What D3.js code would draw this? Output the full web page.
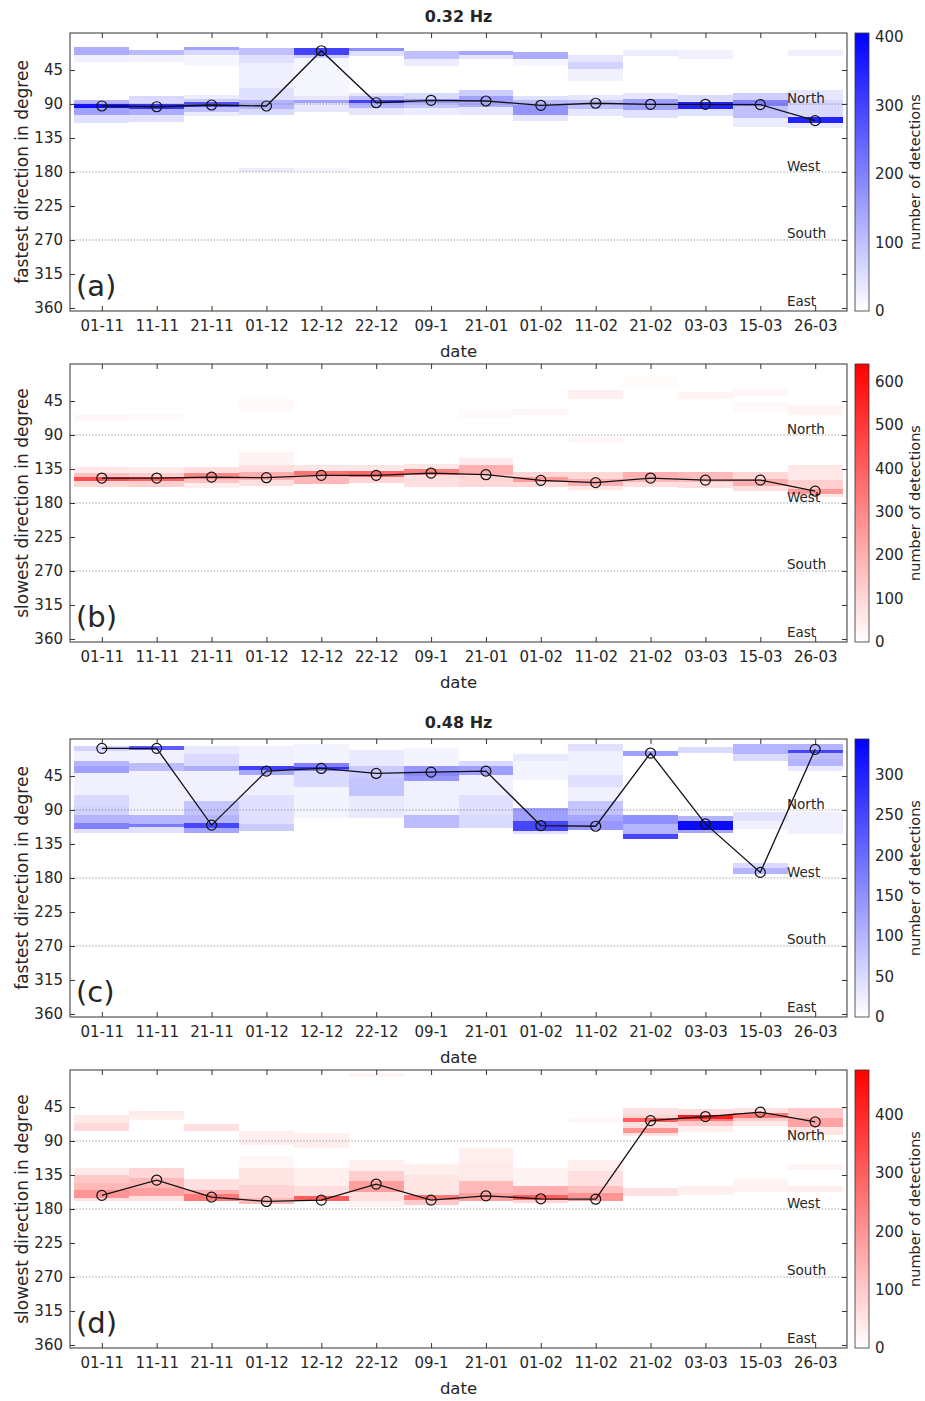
<!DOCTYPE html>
<html>
<head>
<meta charset="utf-8">
<title>Fastest and slowest directions</title>
<style>
  body { margin: 0; background: #fff; }
  svg text { font-family: "DejaVu Sans", Verdana, sans-serif; fill: #262626; }
</style>
</head>
<body>
<svg width="925" height="1401"></svg>

<script src="https://cdn.jsdelivr.net/npm/d3@7"></script>
<script>
// dates on the x axis
var dates = ["01-11", "11-11", "21-11", "01-12", "12-12", "22-12", "09-1",
             "21-01", "01-02", "11-02", "21-02", "03-03", "15-03", "26-03"]

// mean direction per date (degrees)
var fastMean032 = [92.6, 93.6, 91.3, 92.6, 19.5, 88.3, 85.1, 86, 91.7, 89, 90.4, 90.4, 90.8, 112]
var slowMean032 = [147, 147, 145.7, 146.5, 143.4, 143.4, 140.4, 142.5, 150, 153, 147, 149.7, 149.7, 164.3]
var fastMean048 = [8.4, 8.4, 110, 38.5, 35, 41.6, 39.8, 38.5, 110.6, 111.5, 14.6, 108.4, 172.6, 9.7]
var slowMean048 = [162, 141.7, 164.3, 170, 168.3, 147, 168.3, 162.5, 166.5, 167, 63, 57.6, 51.8, 64.7]

// detections per date: [from deg, to deg, count]
var fastHist032 = [
  [[15,25,130],[25,35,25],[85,90,120],[90,95,380],[95,105,150],[105,115,50]],
  [[18,25,110],[25,35,20],[80,90,60],[90,96,330],[96,105,130],[105,114,50]],
  [[15,19,150],[19,25,60],[25,40,15],[78,83,30],[83,87,80],[87,94,280],[94,100,100],[100,106,30]],
  [[16,25,100],[25,36,50],[36,69,25],[69,85,50],[85,96,120],[96,104,60],[175,180,30]],
  [[16,25,300],[25,29,80],[29,80,15],[80,85,40],[85,89,150],[89,100,40],[175,180,15]],
  [[16,20,180],[20,26,50],[75,80,40],[80,85,100],[85,89,300],[89,95,120],[95,104,40]],
  [[20,30,100],[30,40,30],[75,83,60],[83,89,160],[89,95,90],[95,105,30]],
  [[20,25,140],[25,30,40],[72,80,80],[80,87,150],[87,94,130],[94,105,40]],
  [[21,30,130],[30,40,15],[80,85,50],[85,91,110],[91,105,170],[105,112,40]],
  [[25,34,40],[34,43,70],[43,60,20],[78,85,40],[85,96,100],[96,106,40]],
  [[18,27,30],[75,83,40],[83,91,150],[91,98,150],[98,108,50]],
  [[18,30,20],[78,87,60],[87,96,350],[96,106,50]],
  [[75,85,80],[85,93,200],[93,109,100],[109,120,30]],
  [[18,27,25],[72,85,40],[85,107,60],[107,115,350],[115,122,30]]
]
var slowHist032 = [
  [[64,72,20],[133,140,60],[140,146,150],[146,151,450],[151,159,100]],
  [[62,70,15],[133,140,50],[140,145,120],[145,151,400],[151,159,120]],
  [[133,140,80],[140,148,300],[148,154,150],[154,160,40]],
  [[42,59,15],[112,130,30],[130,139,80],[139,150,200],[150,157,80]],
  [[130,137,60],[137,143,350],[143,155,180]],
  [[130,137,60],[137,146,380],[146,153,100]],
  [[128,135,60],[135,143,320],[143,159,80]],
  [[55,68,15],[121,130,50],[130,143,200],[143,159,100]],
  [[55,64,20],[139,146,100],[146,152,250],[152,159,100]],
  [[30,42,40],[93,101,20],[139,148,100],[148,157,200],[157,163,60]],
  [[10,25,10],[139,146,200],[146,152,180],[152,159,80]],
  [[33,42,30],[139,152,170],[152,160,80]],
  [[30,38,20],[46,60,15],[139,148,100],[148,157,200],[157,164,80]],
  [[50,64,30],[130,150,60],[150,161,120],[161,168,250],[168,172,60]]
]
var fastHist048 = [
  [[5,12,60],[12,25,20],[25,32,100],[32,41,130],[41,70,20],[70,85,50],[85,96,60],[96,107,100],[107,115,170],[115,121,40]],
  [[5,10,220],[10,28,20],[28,38,90],[38,96,20],[96,109,100],[109,113,180],[113,120,40]],
  [[5,16,30],[16,32,50],[32,38,110],[38,78,20],[78,96,80],[96,107,100],[107,114,250],[114,120,120]],
  [[5,32,20],[32,37,260],[37,44,120],[44,70,20],[70,109,40],[109,118,70]],
  [[2,28,15],[28,33,170],[33,36,280],[36,38,170],[38,60,50],[60,100,15]],
  [[10,32,30],[32,47,70],[47,72,80],[72,100,30]],
  [[8,32,15],[32,38,140],[38,45,160],[45,51,140],[51,96,20],[96,114,90]],
  [[25,32,50],[32,43,130],[43,70,20],[70,96,40],[96,114,50]],
  [[16,25,30],[25,50,15],[87,105,130],[105,118,250],[118,122,40]],
  [[3,12,40],[12,43,20],[43,60,40],[60,78,20],[78,96,80],[96,105,120],[105,116,140]],
  [[12,18,130],[96,109,150],[109,122,100],[122,129,250]],
  [[7,14,50],[98,105,100],[105,116,330],[116,120,120]],
  [[3,16,100],[16,25,50],[92,105,40],[105,115,20],[160,167,50],[167,175,100]],
  [[3,10,100],[10,14,250],[14,23,90],[23,32,100],[32,38,30],[92,122,20]]
]
var slowHist048 = [
  [[55,66,40],[66,77,70],[126,135,40],[135,146,100],[146,155,130],[155,165,200],[165,170,60]],
  [[50,55,40],[55,62,30],[126,139,80],[139,152,130],[152,163,180],[163,170,60]],
  [[68,77,60],[140,155,60],[155,160,150],[160,170,250]],
  [[77,95,30],[110,126,15],[126,148,50],[148,165,80],[165,174,130]],
  [[80,99,30],[126,150,30],[150,163,60],[163,170,300]],
  [[0,5,20],[115,130,30],[130,143,90],[143,157,180],[157,170,60],[170,177,20]],
  [[120,135,30],[135,161,50],[161,168,250],[168,175,100]],
  [[99,117,30],[117,143,40],[143,159,130],[159,170,180]],
  [[126,150,20],[150,161,150],[161,168,300],[168,172,80]],
  [[60,66,15],[115,130,30],[130,150,60],[150,159,120],[159,170,200]],
  [[46,55,60],[55,60,80],[60,65,300],[65,73,60],[73,79,200],[79,84,50],[152,163,60]],
  [[48,55,70],[55,61,420],[61,64,250],[64,70,100],[70,78,30],[150,162,30]],
  [[46,53,60],[53,59,250],[59,64,100],[64,70,40],[140,158,20]],
  [[46,59,100],[59,71,170],[71,82,50],[120,128,20],[150,158,30]]
]

var yTicks = [45, 90, 135, 180, 225, 270, 315, 360]
var guideLines = [90, 180, 270]
var compass = [["North", 88], ["West", 178.5], ["South", 268], ["East", 358]]

var panels = [
  {top: 33,   title: "0.32 Hz", ylabel: "fastest direction in degree", tag: "(a)",
   mean: fastMean032, hist: fastHist032, hue: "#0000ff", max: 406, cb: [0, 100, 200, 300, 400]},
  {top: 364,  title: null, ylabel: "slowest direction in degree", tag: "(b)",
   mean: slowMean032, hist: slowHist032, hue: "#ff0000", max: 640, cb: [0, 100, 200, 300, 400, 500, 600]},
  {top: 739,  title: "0.48 Hz", ylabel: "fastest direction in degree", tag: "(c)",
   mean: fastMean048, hist: fastHist048, hue: "#0000ff", max: 344, cb: [0, 50, 100, 150, 200, 250, 300]},
  {top: 1070, title: null, ylabel: "slowest direction in degree", tag: "(d)",
   mean: slowMean048, hist: slowHist048, hue: "#ff0000", max: 476, cb: [0, 100, 200, 300, 400]}
]

var svg = d3.select("svg"),
  left = 70, right = 847, plotH = 278,
  cbLeft = 855, cbW = 14,
  axisColor = "#333"

var x = d3.scaleLinear().domain([-0.58, 13.58]).range([left, right])
var defs = svg.append("defs")

panels.forEach(function (p, k) {
  var bottom = p.top + plotH
  var y = d3.scaleLinear().domain([-4, 364]).range([p.top, bottom])
  var color = d3.scaleLinear().domain([0, p.max]).range(["#ffffff", p.hue]).clamp(true)
  var g = svg.append("g")

  // histogram cells
  var cells = p.hist.flatMap((bins, i) => bins.map(b => ({i: i, from: b[0], to: b[1], n: b[2]})))
  g.selectAll(".cell")
    .data(cells).enter()
    .append("rect")
    .attr("class", "cell")
    .attr("x", d => x(d.i - 0.5))
    .attr("width", d => x(d.i + 0.5) - x(d.i - 0.5))
    .attr("y", d => y(d.from))
    .attr("height", d => y(d.to) - y(d.from))
    .attr("fill", d => color(d.n))
    .attr("shape-rendering", "crispEdges")

  // dotted compass guide lines
  g.selectAll(".guide")
    .data(guideLines).enter()
    .append("line")
    .attr("x1", left).attr("x2", right)
    .attr("y1", d => y(d)).attr("y2", d => y(d))
    .attr("stroke", "#555").attr("stroke-width", 0.8)
    .attr("stroke-dasharray", "1,2.2")

  g.selectAll(".compass")
    .data(compass).enter()
    .append("text")
    .attr("x", 787).attr("y", d => y(d[1]))
    .attr("font-size", 13.5)
    .text(d => d[0])

  // mean direction
  g.append("path")
    .datum(p.mean)
    .attr("fill", "none").attr("stroke", "#111").attr("stroke-width", 1.3)
    .attr("d", d3.line().x((d, i) => x(i)).y(d => y(d)))
  g.selectAll(".pt")
    .data(p.mean).enter()
    .append("circle")
    .attr("cx", (d, i) => x(i)).attr("cy", d => y(d)).attr("r", 5)
    .attr("fill", "none").attr("stroke", "#111").attr("stroke-width", 1.2)

  // axes (ticks pointing inward)
  var ax = g.append("g").attr("transform", "translate(" + left + ",0)")
    .call(d3.axisLeft(y).tickValues(yTicks).tickSize(-5).tickPadding(7))
  var axR = g.append("g").attr("transform", "translate(" + right + ",0)")
    .call(d3.axisRight(y).tickValues(yTicks).tickSize(-5).tickFormat(""))
  var axB = g.append("g").attr("transform", "translate(0," + bottom + ")")
    .call(d3.axisBottom(x).tickValues(d3.range(dates.length)).tickFormat(i => dates[i]).tickSize(-5).tickPadding(9))
  var axT = g.append("g").attr("transform", "translate(0," + p.top + ")")
    .call(d3.axisTop(x).tickValues(d3.range(dates.length)).tickSize(-5).tickFormat(""))
  ;[ax, axR, axB, axT].forEach(function (a) {
    a.select(".domain").remove()
    a.selectAll("line").attr("stroke", axisColor)
    a.selectAll("text").attr("font-family", null).attr("font-size", 15).attr("fill", "#262626")
  })

  g.append("rect")
    .attr("x", left).attr("y", p.top)
    .attr("width", right - left).attr("height", plotH)
    .attr("fill", "none").attr("stroke", axisColor).attr("stroke-width", 1)

  g.append("text")
    .attr("x", 76).attr("y", p.top + 263)
    .attr("font-size", 29)
    .text(p.tag)

  g.append("text")
    .attr("x", (left + right) / 2).attr("y", bottom + 46)
    .attr("text-anchor", "middle").attr("font-size", 16.5)
    .text("date")

  g.append("text")
    .attr("transform", "translate(22," + (p.top + plotH / 2) + ") rotate(-90)")
    .attr("text-anchor", "middle").attr("dominant-baseline", "central")
    .attr("font-size", 17)
    .text(p.ylabel)

  if (p.title) {
    g.append("text")
      .attr("x", (left + right) / 2).attr("y", p.top - 11)
      .attr("text-anchor", "middle").attr("font-size", 16).attr("font-weight", "bold")
      .text(p.title)
  }

  // colour bar
  var cy = d3.scaleLinear().domain([0, p.max]).range([bottom, p.top])
  var gradId = "grad" + k
  var grad = defs.append("linearGradient").attr("id", gradId)
    .attr("x1", 0).attr("y1", 1).attr("x2", 0).attr("y2", 0)
  grad.selectAll("stop")
    .data([0, p.max]).enter()
    .append("stop")
    .attr("offset", d => d / p.max)
    .attr("stop-color", d => color(d))
  g.append("rect")
    .attr("x", cbLeft).attr("y", p.top)
    .attr("width", cbW).attr("height", plotH)
    .attr("fill", "url(#" + gradId + ")")
    .attr("stroke", axisColor).attr("stroke-width", 0.8)
  var cbAxis = g.append("g").attr("transform", "translate(" + (cbLeft + cbW) + ",0)")
    .call(d3.axisRight(cy).tickValues(p.cb).tickSize(0).tickPadding(6))
  cbAxis.select(".domain").remove()
  cbAxis.selectAll("text").attr("font-family", null).attr("font-size", 15).attr("fill", "#262626")

  g.append("text")
    .attr("transform", "translate(915," + (p.top + plotH / 2) + ") rotate(-90)")
    .attr("text-anchor", "middle").attr("dominant-baseline", "central")
    .attr("font-size", 14.5)
    .text("number of detections")
})
</script>
</body>
</html>
